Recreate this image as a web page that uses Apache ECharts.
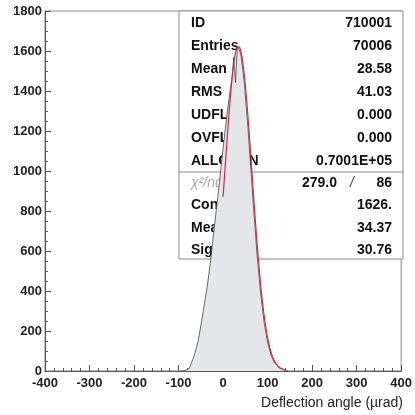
<!DOCTYPE html>
<html>
<head>
<meta charset="utf-8">
<script src="https://cdn.jsdelivr.net/npm/echarts@6/dist/echarts.min.js"></script>
<style>
  html, body { margin: 0; padding: 0; background: #fff; }
  #chart { width: 415px; height: 415px; }
</style>
</head>
<body>
<div id="chart"></div>
<script>
// Histogram of deflection angles: bin layout and counts per bin
const binStart = -96;   // left edge of first bin (µrad)
const binWidth = 4;     // µrad
const counts = [
  0, 1, 3, 6, 12, 22, 36, 58, 84, 116,
  152, 200, 252, 306, 362, 418, 482, 552, 634, 712,
  792, 868, 948, 1032, 1112, 1190, 1266, 1338, 1402, 1466,
  1568, 1442, 1624, 1608, 1582, 1508, 1434, 1322, 1216, 1080,
  962, 828, 712, 590, 494, 396, 320, 246, 193, 143,
  110, 77, 58, 39, 29, 18, 12, 8, 4, 1, 0
];

// Gaussian fit parameters (as printed in the statistics box)
const fitConstant = 1626;
const fitMean = 34.37;
const fitSigma = 30.76;
const fitRange = [0, 140];

// Statistics box rows
const statLabels = ['ID', 'Entries', 'Mean', 'RMS', 'UDFL', 'OVFL', 'ALLCHAN'];
const statValues = ['710001', '70006', '28.58', '41.03', '0.000', '0.000', '0.7001E+05'];
const fitLabels = ['Constant', 'Mean', 'Sigma'];
const fitValues = ['1626.', '34.37', '30.76'];
const chi2 = '279.0', ndf = '86';

// Axis ticks
const xTicks = { min: -400, max: 400, interval: 100 };
const yTicks = { min: 0, max: 1800, interval: 200 };

const histData = counts.map((c, i) => [binStart + binWidth * (i + 0.5), c]);
const fitData = [];
for (let x = fitRange[0]; x <= fitRange[1]; x += 1) {
  const d = (x - fitMean) / fitSigma;
  fitData.push([x, fitConstant * Math.exp(-0.5 * d * d)]);
}

const FONT = '"Liberation Sans", Arial, sans-serif';
const boxL = 179, boxR = 403, boxT = 11, boxB = 259, sepY = 172;
const textL = 191, textR = 392;
const rowY = [23, 46, 69, 92, 115, 138, 161];
const fitRowY = [205, 228, 250];

const graphics = [
  { type: 'rect', z: 0, shape: { x: boxL, y: boxT, width: boxR - boxL, height: boxB - boxT },
    style: { fill: '#fff', stroke: '#8a8a8a', lineWidth: 1 } },
  { type: 'line', z: 0, shape: { x1: boxL, y1: sepY, x2: boxR, y2: sepY },
    style: { stroke: '#8a8a8a', lineWidth: 1 } }
];
const txt = (s, x, y, align, extra) => Object.assign({
  type: 'text', z: 1, x: x, y: y,
  style: { text: s, fill: '#111', font: 'bold 14px ' + FONT, textAlign: align, textVerticalAlign: 'middle' }
}, extra || {});
statLabels.forEach((s, i) => graphics.push(txt(s, textL, rowY[i], 'left')));
statValues.forEach((s, i) => graphics.push(txt(s, textR, rowY[i], 'right')));
fitLabels.forEach((s, i) => graphics.push(txt(s, textL, fitRowY[i], 'left')));
fitValues.forEach((s, i) => graphics.push(txt(s, textR, fitRowY[i], 'right')));
graphics.push({ type: 'text', z: 1, x: textL, y: 183,
  style: { text: 'χ²/ndf', fill: '#aaa', font: 'italic 14px ' + FONT, textAlign: 'left', textVerticalAlign: 'middle' } });
graphics.push(txt(chi2, 337, 183, 'right'));
graphics.push({ type: 'text', z: 1, x: 352, y: 183,
  style: { text: '/', fill: '#444', font: 'italic 14px ' + FONT, textAlign: 'center', textVerticalAlign: 'middle' } });
graphics.push(txt(ndf, textR, 183, 'right'));
graphics.push({ type: 'text', z: 1, x: 403, y: 403,
  style: { text: 'Deflection angle (µrad)', fill: '#222', font: '14px ' + FONT, textAlign: 'right', textVerticalAlign: 'middle' } });

const chart = echarts.init(document.getElementById('chart'), null, { renderer: 'canvas' });
chart.setOption({
  animation: false,
  backgroundColor: '#fff',
  grid: { left: 45, right: 12, top: 11, bottom: 44, show: true, borderColor: '#8a8a8a', borderWidth: 1, backgroundColor: 'transparent' },
  xAxis: {
    type: 'value', min: xTicks.min, max: xTicks.max, interval: xTicks.interval,
    axisLine: { onZero: false, lineStyle: { color: '#555', width: 1 } },
    axisTick: { inside: true, length: 6, lineStyle: { color: '#555' } },
    minorTick: { show: true, splitNumber: 5, length: 3, lineStyle: { color: '#555' } },
    splitLine: { show: false },
    axisLabel: { color: '#222', fontFamily: FONT, fontWeight: 'bold', fontSize: 13, margin: 6,
      formatter: v => String(v) }
  },
  yAxis: {
    type: 'value', min: yTicks.min, max: yTicks.max, interval: yTicks.interval,
    axisLine: { show: true, onZero: false, lineStyle: { color: '#555', width: 1 } },
    axisTick: { show: true, inside: true, length: 6, lineStyle: { color: '#555' } },
    minorTick: { show: true, splitNumber: 4, length: 3, lineStyle: { color: '#555' } },
    splitLine: { show: false },
    axisLabel: { color: '#222', fontFamily: FONT, fontWeight: 'bold', fontSize: 13, margin: 3,
      formatter: v => String(v) }
  },
  graphic: graphics,
  series: [
    {
      type: 'line', z: 3, data: histData, step: 'middle', showSymbol: false,
      lineStyle: { color: '#444', width: 0.8 },
      areaStyle: { color: '#e4e6ea', opacity: 1 }
    },
    {
      type: 'line', z: 4, data: fitData, smooth: false, showSymbol: false,
      lineStyle: { color: '#d42a3c', width: 1.2 }
    }
  ]
});
</script>
</body>
</html>
